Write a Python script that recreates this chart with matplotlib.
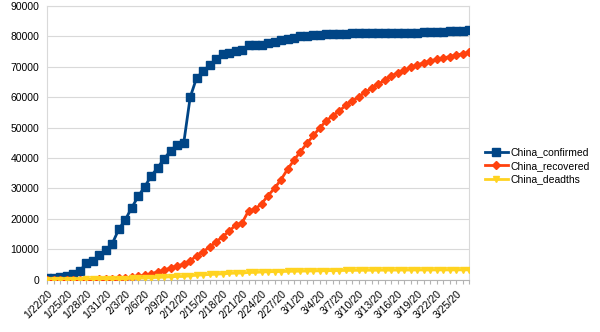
import matplotlib
matplotlib.use("Agg")
import matplotlib.pyplot as plt
import datetime as dt

start = dt.date(2020, 1, 22)
confirmed = [548, 643, 920, 1406, 2075, 2877, 5509, 6087, 8141, 9802,
             11891, 16630, 19716, 23707, 27440, 30587, 34110, 36814, 39829, 42354,
             44386, 44759, 59895, 66358, 68413, 70513, 72434, 74211, 74619, 75077,
             75550, 77001, 77022, 77241, 77754, 78166, 78600, 78928, 79356,
             79932, 80136, 80261, 80386, 80537, 80690, 80770, 80823, 80860, 80887,
             80921, 80932, 80945, 80977, 81003, 81033, 81058, 81102, 81156, 81250,
             81305, 81435, 81498, 81591, 81661, 81782, 81897]
recovered = [28, 30, 36, 39, 49, 58, 101, 120, 135, 214,
             275, 463, 614, 843, 1115, 1476, 1998, 2595, 3218, 3917,
             4635, 5079, 6213, 7973, 9294, 10748, 12455, 14199, 15952, 18002,
             18693, 22687, 23170, 24990, 27650, 30053, 32898, 36291, 39279,
             42118, 44810, 47404, 49955, 52240, 53888, 55478, 57320, 58735, 60106,
             61644, 62901, 64196, 65660, 67017, 67910, 68798, 69755, 70535, 71266,
             71857, 72362, 72814, 73280, 73773, 74181, 74720]
deaths = [17, 18, 26, 42, 56, 82, 131, 133, 171, 213,
          259, 361, 425, 490, 562, 632, 717, 804, 904, 1011,
          1112, 1117, 1369, 1521, 1663, 1766, 1864, 2003, 2116, 2238,
          2238, 2443, 2445, 2595, 2665, 2717, 2746, 2790, 2837,
          2872, 2914, 2947, 2983, 3015, 3044, 3072, 3100, 3123, 3139,
          3161, 3172, 3180, 3193, 3203, 3217, 3230, 3241, 3249, 3253,
          3259, 3274, 3274, 3281, 3285, 3291, 3296]
dates = [start + dt.timedelta(days=i) for i in range(len(confirmed))]
labels = [f"{d.month}/{d.day}/20" for d in dates]
yticks = list(range(0, 90001, 10000))

plt.rcParams['font.family'] = ['Liberation Sans', 'DejaVu Sans']
fig = plt.figure(figsize=(6, 3.32), dpi=100)
ax = fig.add_axes([0.079, 0.157, 0.703, 0.826])

x = list(range(len(confirmed)))
ax.plot(x, confirmed, color='#004586', lw=2, marker='s', ms=5.5, label='China_confirmed', zorder=3)
ax.plot(x, recovered, color='#ff420e', lw=2, marker='D', ms=4, label='China_recovered', zorder=4)
ax.plot(x, deaths, color='#ffd320', lw=2, marker='v', ms=5, label='China_deadths', zorder=5)

ax.set_xlim(0, len(x) - 1)
ax.set_ylim(0, 90000)
ax.set_yticks(yticks)
ax.set_yticklabels([str(v) for v in yticks])
ax.set_xticks(x, minor=True)
ax.set_xticks(x[::3])
ax.set_xticklabels(labels[::3], rotation=45, ha='right', rotation_mode='anchor')
ax.tick_params(axis='both', labelsize=7.5, color='#b3b3b3', length=3, width=0.8)
ax.tick_params(axis='x', which='minor', color='#b3b3b3', length=3, width=0.8)
ax.tick_params(axis='y', length=0, pad=6)
ax.grid(axis='y', color='#d9d9d9', lw=0.8)
ax.set_axisbelow(True)
for s in ax.spines.values():
    s.set_color('#d9d9d9')
    s.set_linewidth(0.8)
ax.spines['bottom'].set_color('#b3b3b3')

ax.legend(loc='center left', bbox_to_anchor=(1.037, 0.416), frameon=False, fontsize=7.5,
          handlelength=2.2, labelspacing=0.35, handletextpad=0.3, borderpad=0,
          borderaxespad=0)
fig.savefig('out.png', dpi=100)
